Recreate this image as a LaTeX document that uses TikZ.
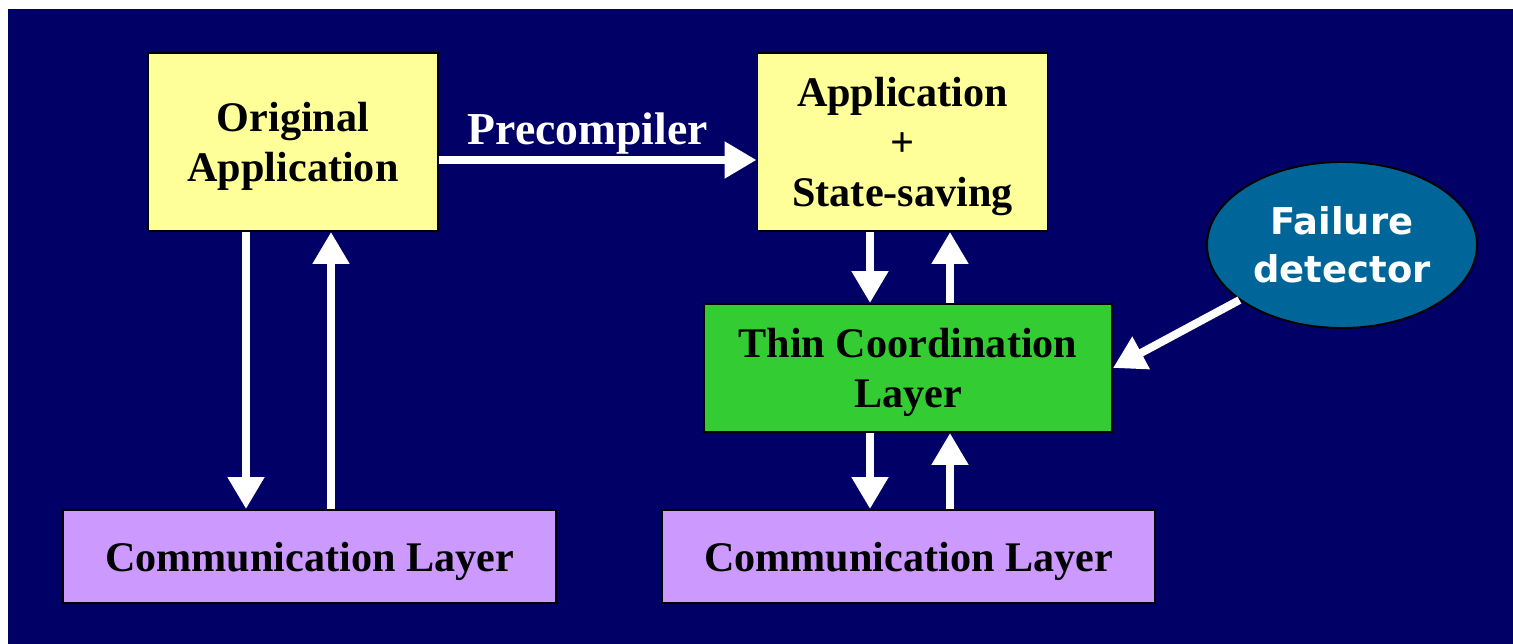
\documentclass[tikz,border=0pt]{standalone}
\usepackage{fontspec}
\setmainfont{Liberation Serif}
\newfontfamily\fdfont{DejaVu Sans}
\usepackage{xcolor}
\usepackage{tikz}
\usetikzlibrary{shapes.geometric, arrows.meta, positioning, calc}
\definecolor{mynavy}{RGB}{0,0,102}
\definecolor{myyellow}{RGB}{255,255,153}
\definecolor{mygreen}{RGB}{51,204,51}
\definecolor{mylilac}{RGB}{204,153,255}
\definecolor{myblue}{RGB}{0,102,153}
\tikzset{
  box/.style={rectangle, draw=black, line width=1.1pt, align=center,
    font=\fontsize{24}{28.5}\selectfont\bfseries, inner sep=0pt,
    text depth=-4.5pt},
  appbox/.style={box, fill=myyellow, minimum width=5.8cm, minimum height=3.56cm},
  coordbox/.style={box, fill=mygreen, minimum width=8.16cm, minimum height=2.56cm},
  commbox/.style={box, fill=mylilac, minimum width=9.86cm, minimum height=1.86cm},
  detnode/.style={ellipse, draw=black, line width=1.1pt, fill=myblue,
    minimum width=5.4cm, minimum height=3.32cm, inner sep=0pt, align=center,
    text=white, font=\fdfont\fontsize{21}{27.3}\selectfont\bfseries},
  arrow/.style={-{Triangle[length=0.64cm, width=0.7cm]}, line width=0.16cm, color=white}
}

\begin{document}
\begin{tikzpicture}
  % Background
  \useasboundingbox (0,0) rectangle (30.26,12.88);
  \fill[mynavy] (0.16,0) rectangle (30.26,12.7);

  % Boxes
  \node[appbox] (orig) at (5.86,10.04) {Original\\Application};
  \node[appbox] (appss) at (18.05,10.04) {Application\\+\\State-saving};
  \node[coordbox] (tcl) at (18.16,5.52) {Thin Coordination\\Layer};
  \node[commbox] (comL) at (6.19,1.75) {Communication Layer};
  \node[commbox] (comR) at (18.17,1.75) {Communication Layer};
  \node[detnode] (fd) at (26.84,7.98) {Failure\\detector};

  % Arrow columns
  \coordinate (xa) at (4.92,0);
  \coordinate (xb) at (6.62,0);
  \coordinate (xc) at (17.4,0);
  \coordinate (xd) at (19.0,0);

  % Precompiler step
  \draw[arrow] ([yshift=-0.36cm]orig.east) -- ([yshift=-0.36cm]appss.west)
    node[midway, above=-2.5pt, xshift=-0.2cm, font=\fontsize{26}{30}\selectfont\bfseries] {Precompiler};

  % Left stack
  \draw[arrow] (orig.south -| xa) -- (comL.north -| xa);
  \draw[arrow] (comL.north -| xb) -- (orig.south -| xb);

  % Right stack
  \draw[arrow] (appss.south -| xc) -- (tcl.north -| xc);
  \draw[arrow] (tcl.north -| xd) -- (appss.south -| xd);
  \draw[arrow] (tcl.south -| xc) -- (comR.north -| xc);
  \draw[arrow] (comR.north -| xd) -- (tcl.south -| xd);

  % Detector
  \draw[arrow] (fd) -- (tcl.east);
\end{tikzpicture}
\end{document}
